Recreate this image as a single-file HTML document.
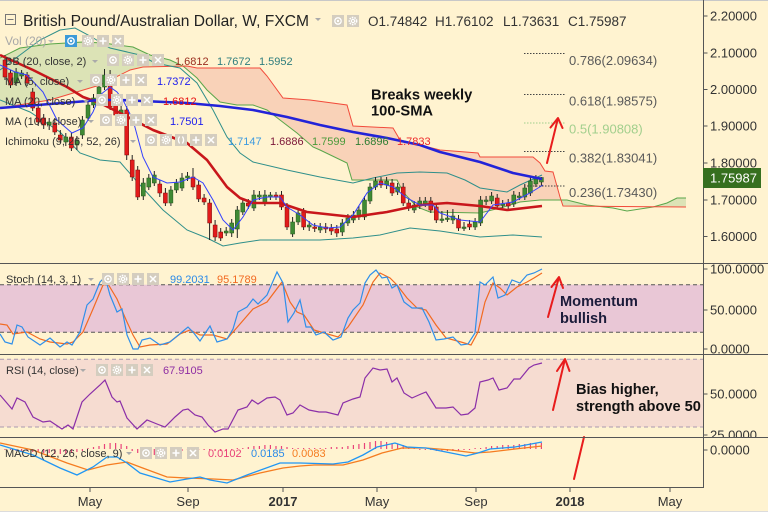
<!DOCTYPE html>
<html><head><meta charset="utf-8"><style>
html,body{margin:0;padding:0;background:#FFF3D0;}
svg{display:block;font-family:"Liberation Sans",Arial,sans-serif;}
</style></head><body>
<svg width="768" height="512" viewBox="0 0 768 512" xmlns="http://www.w3.org/2000/svg">
<defs>
<symbol id="ip" viewBox="0 0 12 12"><rect width="12" height="12" fill="#d4cdbf"/><path d="M6,2.5V9.5M2.5,6H9.5" stroke="#fff" stroke-width="1.6"/></symbol>
<symbol id="ix" viewBox="0 0 12 12"><rect width="12" height="12" fill="#d4cdbf"/><path d="M3,3L9,9M9,3L3,9" stroke="#fff" stroke-width="1.5"/></symbol>
<symbol id="ie" viewBox="0 0 12 12"><rect width="12" height="12" fill="#d4cdbf"/><circle cx="6" cy="6" r="3.2" stroke="#fff" stroke-width="1.3" fill="none"/><circle cx="6" cy="6" r="1.2" fill="#fff"/></symbol>
<symbol id="ieb" viewBox="0 0 12 12"><rect width="12" height="12" fill="#3d9ad8"/><circle cx="6" cy="6" r="3.2" stroke="#fff" stroke-width="1.3" fill="none"/><circle cx="6" cy="6" r="1.2" fill="#fff"/></symbol>
<symbol id="ig" viewBox="0 0 12 12"><rect width="12" height="12" fill="#d4cdbf"/><circle cx="6" cy="6" r="3.6" fill="none" stroke="#fff" stroke-width="1.6" stroke-dasharray="1.6,1"/><circle cx="6" cy="6" r="2.2" fill="#fff"/><circle cx="6" cy="6" r="1" fill="#d4cdbf"/></symbol>
<symbol id="ib" viewBox="0 0 12 12"><rect width="12" height="12" fill="#d4cdbf"/><path d="M4.6,2.5Q2.2,6 4.6,9.5M7.4,2.5Q9.8,6 7.4,9.5" stroke="#fff" fill="none" stroke-width="1.3"/></symbol>
<clipPath id="cs"><rect x="703" y="264" width="65" height="90"/></clipPath>
<clipPath id="cr"><rect x="703" y="355" width="65" height="82"/></clipPath>
<clipPath id="cm"><rect x="703" y="438" width="65" height="50"/></clipPath>
</defs>

<rect width="768" height="512" fill="#FFF3D0"/>
<line x1="0" y1="0.5" x2="768" y2="0.5" stroke="#c8c8c8"/>

<!-- Ichimoku cloud -->
<path d="M0,58 L20,48 L50,44 L83,42 L103,43 L133,47 L150,55 L170,60 L183,66 L143,67 L130,70 L100,85 L50,100 L0,108 Z" fill="#DCE3B6"/>
<path d="M183,66 L187,66 L197,68 L260,68 L267,76 L283,98 L310,100 L347,105 L353,126 L393,128 L400,140 L440,150 L478,153 L480,157 L533,157 L540,163 L545,171 L553,172 L561,200 L540,200 L520,202 L500,208 L480,213 L430,212 L417,207 L403,192 L397,180 L352,180 L347,163 L320,150 L313,147 L297,133 L280,120 L267,110 L253,105 L237,105 L220,102 L207,90 L197,78 Z" fill="#F9D2B8"/>
<path d="M561,200 L567,200 L587,205 L600,207 L653,207 L667,203 L677,198 L686,198 L686,207 L563,206 Z" fill="#DCE3B6"/>
<path d="M0,58 L20,48 L50,44 L83,42 L103,43 L133,47 L150,55 L170,60 L183,66 L197,78 L207,90 L220,102 L237,105 L253,105 L267,110 L280,120 L297,133 L313,147 L320,150 L347,163 L352,180 L397,180 L403,192 L417,207 L430,212 L480,213 L500,208 L520,202 L540,200 L567,200 L587,205 L613,208 L627,211 L653,207 L667,203 L677,198 L686,198" fill="none" stroke="#5aa64a" stroke-width="1"/>
<path d="M0,108 L50,100 L100,85 L130,70 L143,67 L187,66 L197,68 L260,68 L267,76 L283,98 L310,100 L347,105 L353,126 L393,128 L400,140 L440,150 L478,153 L480,157 L533,157 L540,163 L545,171 L553,172 L560,197 L563,206 L686,207" fill="none" stroke="#f24b3b" stroke-width="1"/>

<!-- Bollinger bands -->
<path d="M0,70 L20,55 L40,40 L60,30 L75,28 L90,36 L110,48 L140,55 L155,63 L180,68 L197,83 L213,110 L227,137 L240,153 L253,162 L287,170 L320,177 L353,183 L373,178 L397,173 L420,172 L447,173 L465,180 L480,188 L507,192 L520,185 L542,175" fill="none" stroke="#2f8f8a" stroke-width="1"/>
<path d="M0,100 L30,112 L60,132 L80,153 L100,160 L120,162 L140,185 L163,210 L187,230 L207,238 L223,246 L240,243 L260,240 L320,240 L353,238 L380,235 L410,228 L440,231 L480,237 L513,235 L542,237" fill="none" stroke="#2f8f8a" stroke-width="1"/>

<!-- Candles -->
<path fill="none" stroke="#222" stroke-width="1" d="M5,55V80M10.5,70V88M16.1,68V86M21.6,70V79M27.1,72V86M32.7,88V111M38.2,104V126M43.7,114V129M49.2,118V130M54.8,118V135M60.3,130V143M65.8,133V146M71.4,133V151M76.9,136V150M82.4,116V139M88,100V121M93.5,94V108M99,83V101M104.5,69V90M110.1,70V110M115.6,99V118M121.1,106V117M126.7,103V160M132.2,155V181M137.7,166V200M143.3,178V200M148.8,174V190M154.3,171V186M159.8,180V197M165.4,188V206M170.9,186V206M176.4,179V193M182,173V191M187.5,172V181M193,168V190M198.6,181V202M204.1,194V205M209.6,199V240M215.1,220V241M220.7,228V241M226.2,227V236M231.7,219V237M237.3,206V238M242.8,199V215M248.3,199V209M253.9,190V211M259.4,191V200M264.9,190V206M270.4,192V200M276,192V200M281.5,191V210M287,203V230M292.6,217V237M298.1,209V225M303.6,208V230M309.2,221V231M314.7,223V232M320.2,223V233M325.7,223V233M331.3,224V235M336.8,225V237M342.3,219V236M347.9,214V226M353.4,211V223M358.9,206V220M364.5,196V220M370,183V204M375.5,177V190M381,177V188M386.6,177V189M392.1,179V196M397.6,183V195M403.2,183V206M408.7,199V211M414.2,201V213M419.8,197V209M425.3,197V207M430.8,197V213M436.3,203V223M441.9,211V223M447.4,210V222M452.9,209V224M458.5,215V231M464,222V231M469.5,220V230M475.1,218V230M480.6,196V226M486.1,196V205M491.6,192V204M497.2,194V209M502.7,200V208M508.2,199V209M513.8,191V207M519.3,192V200M524.8,184V200M530.4,177V196M535.9,175V187M541.4,177V186"/>
<g fill="#e21b1b" stroke="#7a0d0d" stroke-width="0.5">
<rect x="3" y="60" width="4" height="17"/><rect x="8.5" y="73" width="4" height="12"/><rect x="25.1" y="75" width="4" height="8"/><rect x="30.7" y="92" width="4" height="16"/><rect x="36.2" y="108" width="4" height="14"/><rect x="41.7" y="118" width="4" height="7"/><rect x="52.8" y="123" width="4" height="9"/><rect x="58.3" y="135" width="4" height="5"/><rect x="69.4" y="137" width="4" height="11"/><rect x="108.1" y="77" width="4" height="30"/><rect x="113.6" y="103" width="4" height="12"/><rect x="124.7" y="110" width="4" height="45"/><rect x="130.2" y="160" width="4" height="17"/><rect x="135.7" y="170" width="4" height="27"/><rect x="157.8" y="184" width="4" height="9"/><rect x="163.4" y="193" width="4" height="10"/><rect x="191" y="177" width="4" height="10"/><rect x="196.6" y="185" width="4" height="14"/><rect x="202.1" y="198" width="4" height="4"/><rect x="207.6" y="203" width="4" height="20"/><rect x="213.1" y="225" width="4" height="12"/><rect x="218.7" y="232" width="4" height="6"/><rect x="246.3" y="203" width="4" height="3"/><rect x="274" y="195" width="4" height="2"/><rect x="279.5" y="195" width="4" height="12"/><rect x="285" y="207" width="4" height="20"/><rect x="301.6" y="212" width="4" height="15"/><rect x="312.7" y="227" width="4" height="1.5"/><rect x="323.7" y="227" width="4" height="2"/><rect x="329.3" y="228" width="4" height="3"/><rect x="334.8" y="229" width="4" height="4"/><rect x="379" y="181" width="4" height="4"/><rect x="390.1" y="183" width="4" height="10"/><rect x="401.2" y="187" width="4" height="16"/><rect x="406.7" y="203" width="4" height="5"/><rect x="428.8" y="201" width="4" height="9"/><rect x="434.3" y="207" width="4" height="13"/><rect x="456.5" y="219" width="4" height="9"/><rect x="467.5" y="224" width="4" height="3"/><rect x="495.2" y="198" width="4" height="8"/><rect x="506.2" y="203" width="4" height="3"/>
</g>
<g fill="#3f8a34" stroke="#24541d" stroke-width="0.5">
<rect x="14.1" y="72" width="4" height="11"/><rect x="19.6" y="73" width="4" height="3"/><rect x="47.2" y="122" width="4" height="3"/><rect x="63.8" y="137" width="4" height="5"/><rect x="74.9" y="140" width="4" height="5"/><rect x="80.4" y="120" width="4" height="15"/><rect x="86" y="105" width="4" height="13"/><rect x="91.5" y="98" width="4" height="7"/><rect x="97" y="87" width="4" height="11"/><rect x="102.5" y="75" width="4" height="12"/><rect x="119.1" y="110" width="4" height="3"/><rect x="141.3" y="183" width="4" height="13"/><rect x="146.8" y="178" width="4" height="9"/><rect x="152.3" y="175" width="4" height="8"/><rect x="168.9" y="190" width="4" height="13"/><rect x="174.4" y="183" width="4" height="7"/><rect x="180" y="178" width="4" height="10"/><rect x="185.5" y="176" width="4" height="2"/><rect x="224.2" y="231" width="4" height="2"/><rect x="229.7" y="223" width="4" height="10"/><rect x="235.3" y="210" width="4" height="19"/><rect x="240.8" y="203" width="4" height="9"/><rect x="251.9" y="195" width="4" height="13"/><rect x="257.4" y="195" width="4" height="2"/><rect x="262.9" y="195" width="4" height="8"/><rect x="268.4" y="195" width="4" height="2"/><rect x="290.6" y="222" width="4" height="12"/><rect x="296.1" y="213" width="4" height="9"/><rect x="307.2" y="225" width="4" height="2"/><rect x="318.2" y="227" width="4" height="3"/><rect x="340.3" y="223" width="4" height="9"/><rect x="345.9" y="218" width="4" height="5"/><rect x="351.4" y="215" width="4" height="5"/><rect x="356.9" y="210" width="4" height="7"/><rect x="362.5" y="200" width="4" height="17"/><rect x="368" y="187" width="4" height="14"/><rect x="373.5" y="181" width="4" height="6"/><rect x="384.6" y="181" width="4" height="4"/><rect x="395.6" y="187" width="4" height="5"/><rect x="412.2" y="205" width="4" height="5"/><rect x="417.8" y="201" width="4" height="5"/><rect x="423.3" y="201" width="4" height="3"/><rect x="439.9" y="219" width="4" height="1.5"/><rect x="445.4" y="218" width="4" height="1.5"/><rect x="450.9" y="216" width="4" height="4"/><rect x="462" y="227" width="4" height="1.5"/><rect x="473.1" y="222" width="4" height="5"/><rect x="478.6" y="200" width="4" height="23"/><rect x="484.1" y="200" width="4" height="1.5"/><rect x="489.6" y="196" width="4" height="5"/><rect x="500.7" y="204" width="4" height="1.5"/><rect x="511.8" y="195" width="4" height="9"/><rect x="517.3" y="196" width="4" height="1.5"/><rect x="522.8" y="188" width="4" height="9"/><rect x="528.4" y="181" width="4" height="12"/><rect x="533.9" y="179" width="4" height="5"/><rect x="539.4" y="177.5" width="4" height="4.5"/>
</g>

<!-- Moving averages -->
<path d="M0,55 L33,70 L67,87 L83,97 L100,103 L120,113 L153,130 L187,143 L207,160 L227,187 L240,198 L253,203 L280,203 L307,212 L353,217 L387,212 L420,205 L447,203 L480,206 L507,210 L542,206" fill="none" stroke="#c8161b" stroke-width="2.6" stroke-linejoin="round"/>
<path d="M0,108 L50,104 L100,100 L120,100 L187,103 L220,106 L253,110 L287,117 L320,125 L353,132 L387,138 L420,145 L440,152 L480,162 L513,173 L542,179" fill="none" stroke="#2323d8" stroke-width="2.6" stroke-linejoin="round"/>
<path d="M0,65 L15,72 L27,75 L43,92 L57,120 L72,133 L83,128 L93,112 L100,95 L110,87 L117,92 L123,100 L133,120 L143,157 L153,177 L167,183 L180,182 L193,177 L203,183 L213,200 L223,220 L233,230 L243,217 L253,200 L267,197 L280,197 L287,207 L300,215 L313,225 L327,228 L340,227 L353,215 L367,193 L380,183 L393,187 L407,198 L420,205 L433,205 L440,213 L460,220 L480,222 L493,205 L513,202 L530,193 L543,185" fill="none" stroke="#3340ff" stroke-width="1"/>

<!-- Fib levels -->
<g stroke-width="1" stroke-dasharray="1.5,1.5">
<line x1="524" y1="53.5" x2="565" y2="53.5" stroke="#444"/>
<line x1="524" y1="94.5" x2="565" y2="94.5" stroke="#444"/>
<line x1="524" y1="123" x2="565" y2="123" stroke="#9fcf8c"/>
<line x1="524" y1="151.5" x2="565" y2="151.5" stroke="#444"/>
<line x1="524" y1="186" x2="565" y2="186" stroke="#444"/>
</g>
<g font-size="13" fill="#5a5a5a">
<text x="569" y="65">0.786(2.09634)</text>
<text x="569" y="105.5">0.618(1.98575)</text>
<text x="569" y="133.5" fill="#a2cf8d">0.5(1.90808)</text>
<text x="569" y="162.5">0.382(1.83041)</text>
<text x="569" y="197">0.236(1.73430)</text>
</g>

<!-- Title / legend -->
<rect x="5.5" y="14.5" width="10" height="10" fill="none" stroke="#777"/>
<line x1="7.5" y1="19.5" x2="13.5" y2="19.5" stroke="#777"/>
<text x="23" y="26" font-size="15.6" fill="#222">British Pound/Australian Dollar, W, FXCM</text>
<path d="M315,18h6l-3,3z" fill="#aaa"/>
<use href="#ie" x="332" y="15" width="12" height="12"/>
<use href="#ig" x="347" y="15" width="12" height="12"/>
<g font-size="13.5" fill="#333">
<text x="368" y="26">O1.74842</text>
<text x="435" y="26">H1.76102</text>
<text x="503" y="26">L1.73631</text>
<text x="568" y="26">C1.75987</text>
</g>

<g font-size="11" fill="#333">
<text x="5" y="45" fill="#a8a8a8" font-size="12">Vol (20)</text>
<path d="M48,40h6l-3,3z" fill="#bbb"/>
<use href="#ieb" x="65" y="35" width="12" height="12"/>
<use href="#ig" x="82" y="35" width="12" height="12"/>
<use href="#ip" x="97" y="35" width="12" height="12"/>
<use href="#ix" x="112" y="35" width="12" height="12"/>

<text x="5" y="65">BB (20, close, 2)</text>
<path d="M92,60h6l-3,3z" fill="#aaa"/>
<use href="#ie" x="107" y="54" width="12" height="12"/>
<use href="#ig" x="122" y="54" width="12" height="12"/>
<use href="#ip" x="137" y="54" width="12" height="12"/>
<use href="#ix" x="152" y="54" width="12" height="12"/>
<text x="175" y="65" fill="#9b2d1f">1.6812</text>
<text x="217" y="65" fill="#2e7d7d">1.7672</text>
<text x="259" y="65" fill="#2e7d7d">1.5952</text>

<text x="5" y="85">MA (5, close)</text>
<path d="M77,80h6l-3,3z" fill="#aaa"/>
<use href="#ie" x="90" y="74" width="12" height="12"/>
<use href="#ig" x="105" y="74" width="12" height="12"/>
<use href="#ip" x="120" y="74" width="12" height="12"/>
<use href="#ix" x="135" y="74" width="12" height="12"/>
<text x="157" y="85" fill="#2020ee">1.7372</text>

<text x="5" y="105">MA (20, close)</text>
<path d="M83,100h6l-3,3z" fill="#aaa"/>
<use href="#ie" x="96" y="94" width="12" height="12"/>
<use href="#ig" x="111" y="94" width="12" height="12"/>
<use href="#ip" x="126" y="94" width="12" height="12"/>
<use href="#ix" x="141" y="94" width="12" height="12"/>
<text x="163" y="105" fill="#e81010">1.6812</text>

<text x="5" y="125">MA (100, close)</text>
<path d="M88,120h6l-3,3z" fill="#aaa"/>
<use href="#ie" x="100" y="114" width="12" height="12"/>
<use href="#ig" x="115" y="114" width="12" height="12"/>
<use href="#ip" x="130" y="114" width="12" height="12"/>
<use href="#ix" x="145" y="114" width="12" height="12"/>
<text x="170" y="125" fill="#2020ee">1.7501</text>

<text x="5" y="145">Ichimoku (9, 26, 52, 26)</text>
<path d="M130,140h6l-3,3z" fill="#aaa"/>
<use href="#ie" x="145" y="134" width="12" height="12"/>
<use href="#ig" x="160" y="134" width="12" height="12"/>
<use href="#ib" x="175" y="134" width="12" height="12"/>
<use href="#ip" x="190" y="134" width="12" height="12"/>
<use href="#ix" x="205" y="134" width="12" height="12"/>
<text x="228" y="145" fill="#3d9be0">1.7147</text>
<text x="270" y="145" fill="#7b1538">1.6886</text>
<text x="312" y="145" fill="#4a9a3a">1.7599</text>
<text x="355" y="145" fill="#2e7d32">1.6896</text>
<text x="397" y="145" fill="#ee2a2a">1.7833</text>
</g>

<!-- Annotation main -->
<g font-weight="bold" font-size="14.7" fill="#111">
<text x="371" y="99.5">Breaks weekly</text>
<text x="371" y="115.5">100-SMA</text>
</g>
<g stroke="#e81c1c" stroke-width="2" fill="none" stroke-linecap="round" stroke-linejoin="round">
<path d="M547,163L557.5,120"/>
<path d="M550.5,127.5L558,118L562.5,128"/>
</g>

<!-- Stoch panel -->
<rect x="0" y="284.7" width="703" height="47.6" fill="#E9C7D6"/>
<line x1="0" y1="284.7" x2="703" y2="284.7" stroke="#555" stroke-dasharray="4,3"/>
<line x1="0" y1="332.3" x2="703" y2="332.3" stroke="#555" stroke-dasharray="4,3"/>
<path d="M0,324 L7,325 L13,334 L27,332 L40,339 L50,342 L67,344 L73,342 L83,332 L93,309 L103,285 L108,284 L117,299 L127,322 L133,335 L140,347 L150,345 L167,344 L180,334 L190,330 L200,335 L213,335 L227,339 L240,324 L253,309 L267,302 L282,282 L290,302 L297,312 L304,315 L314,330 L324,333 L338,337 L348,327 L363,305 L373,282 L380,273 L390,278 L397,285 L407,298 L417,308 L426,310 L436,325 L446,338 L461,342 L471,345 L478,332 L485,302 L493,283 L500,288 L507,295 L517,287 L527,282 L534,278 L542,273" fill="none" stroke="#f26a21" stroke-width="1.2"/>
<path d="M0,334 L5,342 L12,344 L17,325 L22,327 L28,337 L40,345 L50,338 L60,347 L67,342 L72,345 L80,332 L87,305 L93,299 L100,282 L105,277 L110,295 L117,312 L122,309 L127,335 L133,349 L138,349 L142,340 L150,338 L160,345 L170,342 L182,332 L188,327 L193,332 L200,341 L210,326 L217,342 L227,339 L233,329 L238,312 L247,307 L253,299 L258,304 L267,295 L277,272 L283,283 L288,322 L294,313 L300,300 L306,327 L311,327 L316,335 L324,332 L333,340 L341,337 L348,318 L353,310 L360,303 L365,283 L370,275 L376,270 L382,278 L387,277 L392,288 L397,285 L404,302 L412,308 L422,308 L429,322 L436,340 L444,339 L453,337 L461,345 L468,344 L475,333 L480,282 L485,285 L493,277 L498,298 L505,295 L512,280 L520,283 L527,275 L534,273 L542,269" fill="none" stroke="#2f8fea" stroke-width="1.2"/>
<g font-size="11" fill="#333">
<text x="6" y="283">Stoch (14, 3, 1)</text>
<path d="M88,278h6l-3,3z" fill="#aaa"/>
<use href="#ie" x="102" y="273" width="12" height="12"/>
<use href="#ig" x="117" y="273" width="12" height="12"/>
<use href="#ip" x="132" y="273" width="12" height="12"/>
<use href="#ix" x="147" y="273" width="12" height="12"/>
<text x="170" y="283" fill="#2a8ae8">99.2031</text>
<text x="217" y="283" fill="#f26a21">95.1789</text>
</g>
<g font-weight="bold" font-size="14.6" fill="#1b1b3a">
<text x="560" y="306">Momentum</text>
<text x="560" y="323">bullish</text>
</g>
<g stroke="#e81c1c" stroke-width="2" fill="none" stroke-linecap="round" stroke-linejoin="round">
<path d="M548,317L558.5,279"/>
<path d="M551.5,287L559,277L563,288"/>
</g>

<!-- RSI panel -->
<rect x="0" y="359.3" width="703" height="67.7" fill="#F6DCD1"/>
<line x1="0" y1="359.3" x2="703" y2="359.3" stroke="#a99ab0" stroke-dasharray="4,3"/>
<line x1="0" y1="427" x2="703" y2="427" stroke="#a99ab0" stroke-dasharray="4,3"/>
<path d="M0,395 L12,409 L17,398 L25,402 L33,417 L43,422 L50,421 L62,429 L68,425 L73,429 L82,402 L90,394 L100,385 L105,380 L112,397 L117,402 L120,401 L127,418 L137,429 L147,420 L157,424 L165,427 L175,417 L183,410 L188,409 L195,415 L202,417 L208,425 L215,432 L223,429 L228,429 L238,410 L247,407 L252,400 L258,404 L267,398 L275,397 L280,400 L287,415 L293,413 L300,405 L309,410 L319,412 L326,412 L338,415 L343,403 L353,399 L360,397 L365,378 L373,368 L380,370 L387,369 L392,382 L397,378 L404,393 L412,398 L421,394 L426,392 L436,408 L446,408 L453,407 L461,415 L468,414 L475,408 L480,382 L488,380 L493,378 L499,390 L507,388 L514,379 L520,379 L529,368 L534,365 L542,363" fill="none" stroke="#8b2fa8" stroke-width="1.2"/>
<g font-size="11" fill="#333">
<text x="6" y="374">RSI (14, close)</text>
<path d="M80,369h6l-3,3z" fill="#aaa"/>
<use href="#ie" x="96" y="364" width="12" height="12"/>
<use href="#ig" x="111" y="364" width="12" height="12"/>
<use href="#ip" x="126" y="364" width="12" height="12"/>
<use href="#ix" x="141" y="364" width="12" height="12"/>
<text x="163" y="374" fill="#8e2da3">67.9105</text>
</g>
<g font-weight="bold" font-size="14.6" fill="#111">
<text x="576" y="394">Bias higher,</text>
<text x="576" y="411">strength above 50</text>
</g>
<g stroke="#e81c1c" stroke-width="2" fill="none" stroke-linecap="round" stroke-linejoin="round">
<path d="M553,410L564.5,361"/>
<path d="M557,371L565,359L569.5,371"/>
</g>

<!-- MACD panel -->
<path fill="none" stroke="#e9437a" stroke-width="1.2" d="M5,449v1M10.5,449v1M16.1,449v2M21.6,449v2M27.1,449v2M32.7,449v3M38.2,449v3M43.7,449v4M49.2,449v4M54.8,449v5M60.3,449v5M65.8,449v5M71.4,449v4M76.9,449v3M82.4,449v2M88,449v-1M93.5,449v-2M99,449v-3M104.5,449v-5M110.1,449v-6M115.6,449v-6M121.1,449v-5M126.7,449v-3M132.2,449v2M137.7,449v4M143.3,449v5M148.8,449v6M154.3,449v6M159.8,449v6M165.4,449v5M170.9,449v4M176.4,449v3M182,449v2M187.5,449v1M193,449v1M198.6,449v1M204.1,449v1M209.6,449v1M215.1,449v2M220.7,449v2M226.2,449v2M231.7,449v1M237.3,449v-1M242.8,449v-1M248.3,449v-2M253.9,449v-3M259.4,449v-3M264.9,449v-4M270.4,449v-4M276,449v-3M281.5,449v-3M287,449v-2M292.6,449v-1M298.1,449v-1M303.6,449v-1M309.2,449v-1M314.7,449v-1M320.2,449v-1M325.7,449v-1M331.3,449v-2M336.8,449v-2M342.3,449v-2M347.9,449v-3M353.4,449v-4M358.9,449v-5M364.5,449v-6M370,449v-7M375.5,449v-8M381,449v-8M386.6,449v-7M392.1,449v-6M397.6,449v-5M403.2,449v-4M408.7,449v-2M414.2,449v-1M419.8,449v1M425.3,449v1M430.8,449v1M436.3,449v2M441.9,449v2M447.4,449v2M452.9,449v2M458.5,449v2M464,449v1M469.5,449v1M475.1,449v-1M480.6,449v-1M486.1,449v-2M491.6,449v-3M497.2,449v-3M502.7,449v-4M508.2,449v-4M513.8,449v-4M519.3,449v-5M524.8,449v-5M530.4,449v-6M535.9,449v-6M541.4,449v-6"/>
<path d="M0,443 L33,450 L67,463 L88,470 L107,465 L127,462 L140,467 L167,477 L187,478 L213,479 L233,480 L260,473 L283,468 L300,466 L314,465 L343,465 L363,460 L382,453 L402,448 L426,448 L451,450 L475,453 L490,452 L515,449 L542,446" fill="none" stroke="#f57c20" stroke-width="1.3"/>
<path d="M0,445 L33,455 L60,468 L77,475 L93,467 L107,457 L117,457 L127,463 L140,473 L170,482 L187,479 L200,477 L210,480 L227,483 L247,475 L280,463 L300,463 L333,464 L348,462 L363,455 L377,447 L395,443 L407,447 L426,448 L446,452 L466,456 L478,453 L490,449 L515,447 L542,442" fill="none" stroke="#2196f3" stroke-width="1.3"/>
<g font-size="11" fill="#333">
<text x="5" y="457">MACD (12, 26, close, 9)</text>
<path d="M126,452h6l-3,3z" fill="#aaa"/>
<use href="#ie" x="140" y="447" width="12" height="12"/>
<use href="#ig" x="155" y="447" width="12" height="12"/>
<use href="#ip" x="170" y="447" width="12" height="12"/>
<use href="#ix" x="187" y="447" width="12" height="12"/>
<text x="208" y="457" fill="#e9437a">0.0102</text>
<text x="251" y="457" fill="#2a8ae8">0.0185</text>
<text x="292" y="457" fill="#f57c20">0.0083</text>
</g>
<path d="M574,479L584,437" stroke="#e81c1c" stroke-width="2" stroke-linecap="round"/>

<!-- Separators & axes -->
<g stroke="#555" stroke-width="1">
<line x1="0" y1="263.5" x2="768" y2="263.5"/>
<line x1="0" y1="354.5" x2="768" y2="354.5"/>
<line x1="0" y1="437.5" x2="768" y2="437.5"/>
<line x1="0" y1="487.5" x2="703.5" y2="487.5"/>
<line x1="703.5" y1="0" x2="703.5" y2="488"/>
<path d="M703.5,16h4M703.5,53h4M703.5,89.5h4M703.5,126h4M703.5,163h4M703.5,200h4M703.5,236.5h4M703.5,269h4M703.5,310h4M703.5,349h4M703.5,394h4M703.5,435h4M703.5,450h4"/>
<path d="M90,488v4M188,488v4M283,488v4M377,488v4M476,488v4M570,488v4M670,488v4"/>
</g>
<line x1="0" y1="511.5" x2="768" y2="511.5" stroke="#dcdcdc"/>

<g font-size="13" fill="#333">
<text x="710" y="20.5">2.20000</text>
<text x="710" y="57.5">2.10000</text>
<text x="710" y="94">2.00000</text>
<text x="710" y="130.5">1.90000</text>
<text x="710" y="167.5">1.80000</text>
<text x="710" y="204.5">1.70000</text>
<text x="710" y="241">1.60000</text>
<g clip-path="url(#cs)">
<text x="710" y="273.5">100.0000</text>
<text x="710" y="314.5">50.0000</text>
<text x="710" y="353.5">0.0000</text>
</g>
<g clip-path="url(#cr)">
<text x="710" y="398.5">50.0000</text>
<text x="710" y="439.5">25.0000</text>
</g>
<g clip-path="url(#cm)">
<text x="710" y="454.5">0.0000</text>
</g>
</g>
<rect x="703" y="168" width="58" height="20" fill="#366f1f"/>
<text x="710" y="182.5" font-size="13" fill="#fff">1.75987</text>

<g font-size="13" fill="#333" text-anchor="middle">
<text x="90" y="506">May</text>
<text x="188" y="506">Sep</text>
<text x="283" y="506" font-weight="bold">2017</text>
<text x="377" y="506">May</text>
<text x="476" y="506">Sep</text>
<text x="570" y="506" font-weight="bold">2018</text>
<text x="670" y="506">May</text>
</g>
</svg>
</body></html>
